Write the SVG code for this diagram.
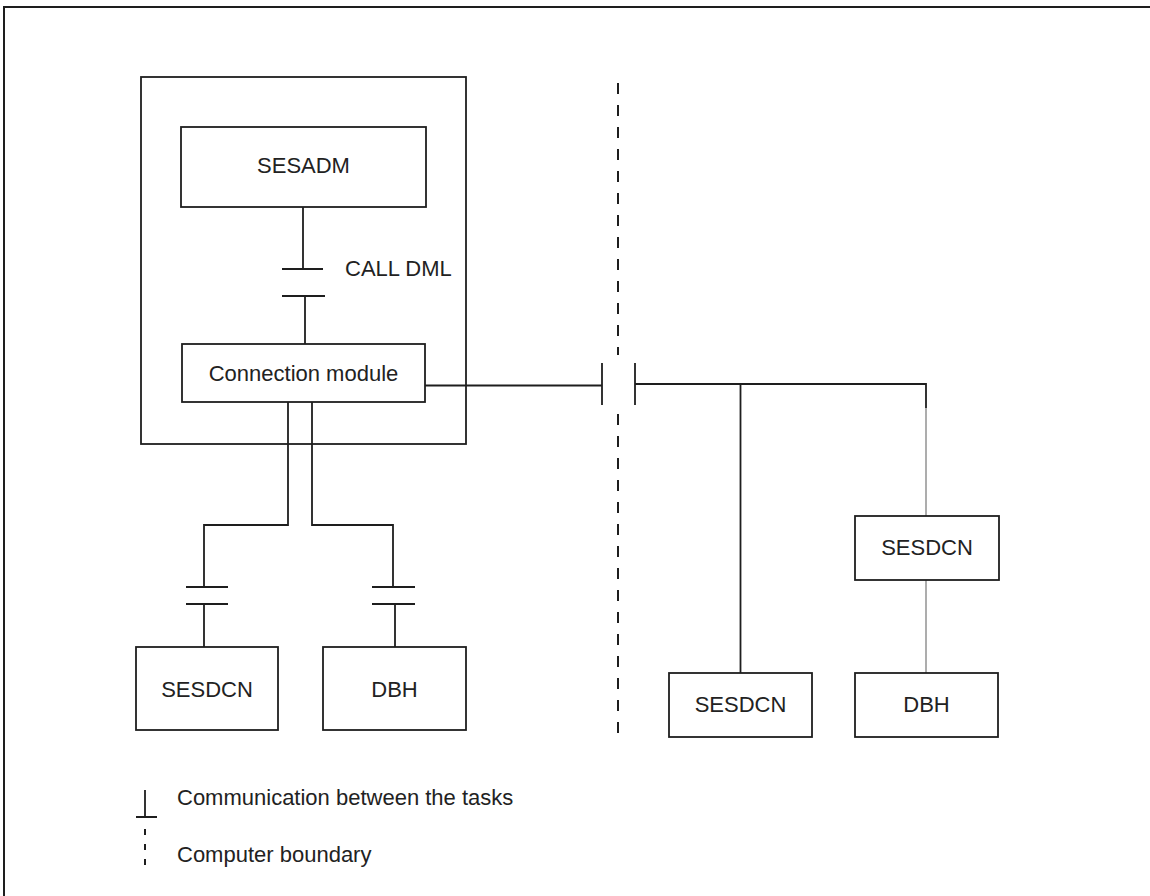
<svg xmlns="http://www.w3.org/2000/svg" width="1150" height="896" viewBox="0 0 1150 896">
<style>
  .box { fill: #ffffff; stroke: #1e1e1e; stroke-width: 1.8; }
  .ln { fill: none; stroke: #1e1e1e; stroke-width: 1.8; }
  .thin { fill: none; stroke: #8a8a8a; stroke-width: 1.4; }
  .dash { fill: none; stroke: #1e1e1e; stroke-width: 2; stroke-dasharray: 11 11; }
  .lbl { font-family: "Liberation Sans", Arial, sans-serif; font-size: 22px; fill: #222222; }
  .mid { text-anchor: middle; }
</style>
<rect x="0" y="0" width="1150" height="896" fill="#ffffff"/>
<rect x="4" y="7" width="1160" height="900" fill="none" stroke="#1e1e1e" stroke-width="2"/>

<g id="computer-boundary">
  <path class="dash" d="M618 83 V355"/>
  <path class="dash" d="M618 414 V738"/>
</g>

<g id="connectors">
  <!-- SESADM to Connection module via CALL DML -->
  <path class="ln" d="M303 207 V269 M282 269 H323"/>
  <path class="ln" d="M282 296 H325 M305 296 V344"/>
  <!-- Connection module to left SESDCN -->
  <path class="ln" d="M288 402 V525 H204 V587 M186 587 H228"/>
  <path class="ln" d="M186 604 H228 M204 604 V647"/>
  <!-- Connection module to left DBH -->
  <path class="ln" d="M312 402 V525 H393 V587 M372 587 H415"/>
  <path class="ln" d="M372 604 H415 M395 604 V647"/>
  <!-- Connection module across computer boundary -->
  <path class="ln" d="M425 385.5 H602 M602 363 V405"/>
  <path class="ln" d="M635 363 V405 M635 384 H926 V408"/>
  <path class="ln" d="M740.5 384 V673"/>
  <path class="thin" d="M926 408 V516"/>
  <path class="thin" d="M926 580 V673"/>
</g>

<g id="outer-task">
  <rect x="141" y="77" width="325" height="367" fill="none" stroke="#1e1e1e" stroke-width="1.8"/>
</g>

<g id="sesadm">
  <rect class="box" x="181" y="127" width="245" height="80"/>
  <text class="lbl mid" x="303.5" y="173">SESADM</text>
</g>

<g id="call-dml-label">
  <text class="lbl" x="345" y="276">CALL DML</text>
</g>

<g id="connection-module">
  <rect class="box" x="182" y="344" width="243" height="58"/>
  <text class="lbl mid" x="303.5" y="381">Connection module</text>
</g>

<g id="sesdcn-left">
  <rect class="box" x="136" y="647" width="142" height="83"/>
  <text class="lbl mid" x="207" y="697">SESDCN</text>
</g>

<g id="dbh-left">
  <rect class="box" x="323" y="647" width="143" height="83"/>
  <text class="lbl mid" x="394.5" y="697">DBH</text>
</g>

<g id="sesdcn-right-top">
  <rect class="box" x="855" y="516" width="144" height="64"/>
  <text class="lbl mid" x="927" y="555">SESDCN</text>
</g>

<g id="sesdcn-right-bottom">
  <rect class="box" x="669" y="673" width="143" height="64"/>
  <text class="lbl mid" x="740.5" y="712">SESDCN</text>
</g>

<g id="dbh-right">
  <rect class="box" x="855" y="673" width="143" height="64"/>
  <text class="lbl mid" x="926.5" y="712">DBH</text>
</g>

<g id="legend">
  <path class="ln" d="M145 790 V817 M136 817 H157"/>
  <text class="lbl" x="177" y="805">Communication between the tasks</text>
  <path fill="none" stroke="#1e1e1e" stroke-width="2" stroke-dasharray="6 9" d="M145 829 V869"/>
  <text class="lbl" x="177" y="862">Computer boundary</text>
</g>
</svg>
